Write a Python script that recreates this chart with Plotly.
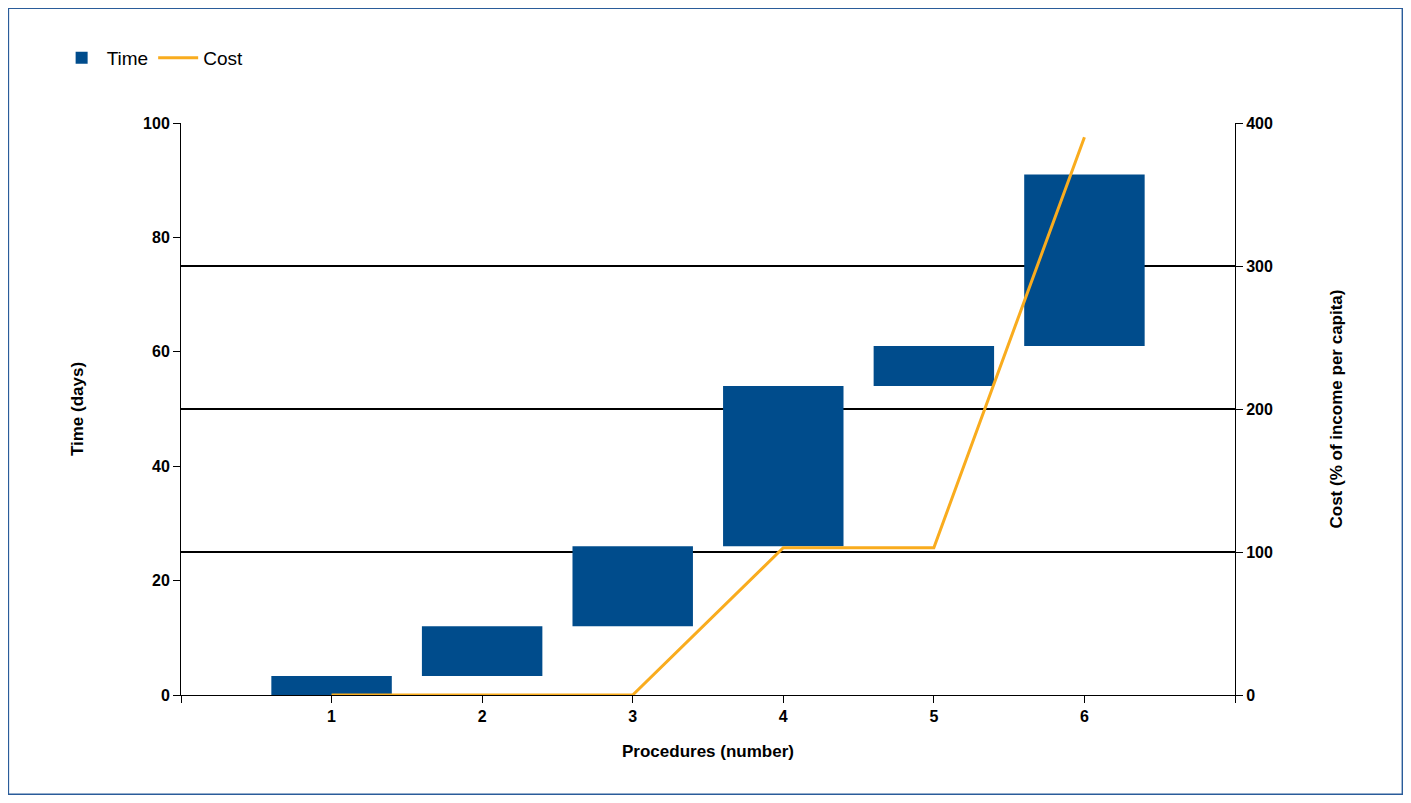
import plotly.graph_objects as go

procedures = [1, 2, 3, 4, 5, 6]
time_start = [0, 3.3, 12, 26, 54, 61]
time_end = [3.3, 12, 26, 54, 61, 91]
cost = [0, 0, 0, 103, 103, 390]

blue = "#004C8C"
orange = "#F9AC1E"
tick_font = dict(family="Liberation Sans", size=16, color="black", weight="bold")

fig = go.Figure()
fig.add_trace(go.Bar(
    x=procedures, base=time_start,
    y=[e - s for s, e in zip(time_start, time_end)],
    width=0.8, marker=dict(color=blue, line=dict(width=0)), name="Time",
))
fig.add_trace(go.Scatter(
    x=procedures, y=cost, yaxis="y2", mode="lines",
    line=dict(color=orange, width=3), name="Cost",
))

fig.update_layout(
    width=1395, height=787,
    margin=dict(l=173, r=168, t=115, b=100),
    paper_bgcolor="white", plot_bgcolor="white",
    font=dict(family="Liberation Sans", size=14, color="black"),
    showlegend=True,
    legend=dict(orientation="h", x=-0.118, y=1.114, xanchor="left", yanchor="middle",
                font=dict(family="Liberation Sans", size=19), itemwidth=40),
    xaxis=dict(range=[0, 7], tickvals=[0, 1, 2, 3, 4, 5, 6, 7],
               ticktext=["", "1", "2", "3", "4", "5", "6", ""],
               ticks="outside", ticklen=7, tickcolor="black",
               showline=True, linecolor="black", showgrid=False, zeroline=False,
               tickfont=tick_font,
               title=dict(text="<b>Procedures (number)</b>", font=dict(size=17), standoff=20)),
    yaxis=dict(range=[0, 100], dtick=20, ticks="outside", ticklen=7, tickcolor="black",
               showline=True, linecolor="black", showgrid=False, zeroline=False,
               tickfont=tick_font,
               title=dict(text="<b>Time (days)</b>", font=dict(size=17), standoff=55)),
    yaxis2=dict(range=[0, 400], dtick=100, overlaying="y", side="right",
                ticks="outside", ticklen=7, tickcolor="black",
                showline=True, linecolor="black", showgrid=True, gridcolor="black",
                gridwidth=1.5, zeroline=False,
                tickfont=tick_font,
                title=dict(text="<b>Cost (% of income per capita)</b>", font=dict(size=17), standoff=58)),
    shapes=[dict(type="rect", xref="paper", yref="paper",
                 x0=-0.164, x1=1.159, y0=-0.174, y1=1.201,
                 line=dict(color="#2A5C9A", width=2))],
)

fig.write_html("out.html")
